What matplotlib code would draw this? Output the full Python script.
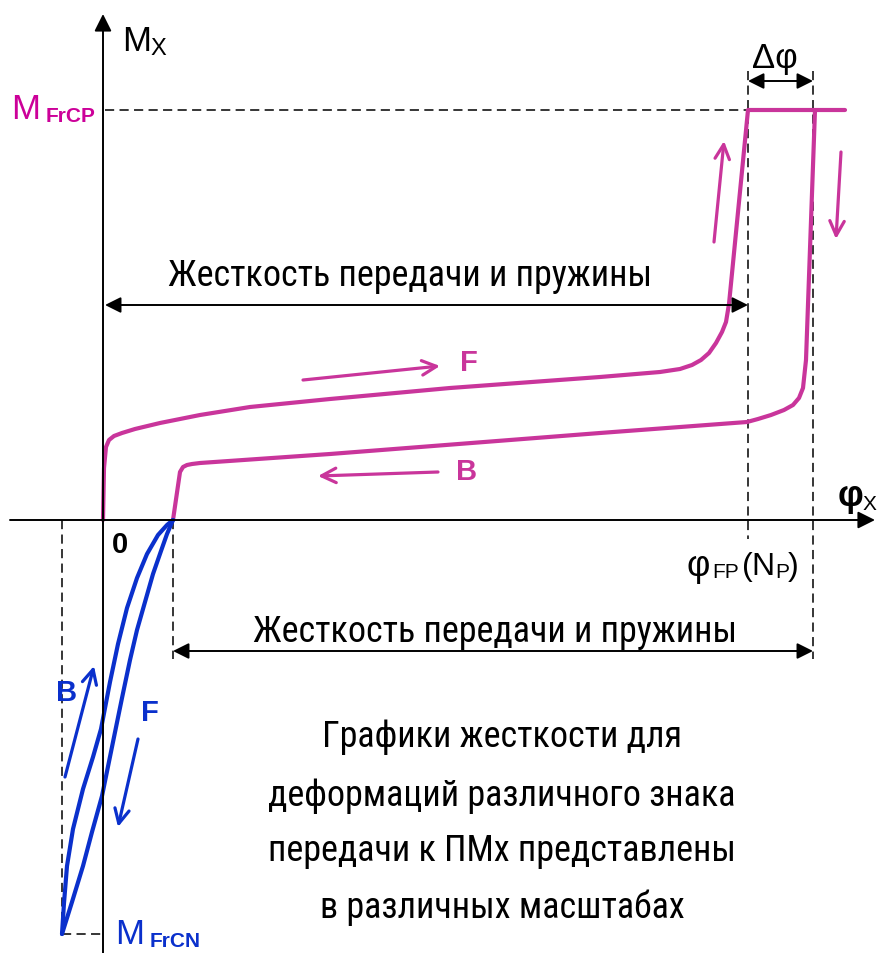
import matplotlib.pyplot as plt

plt.rcParams['font.family'] = ['Liberation Sans', 'DejaVu Sans']
NARROW = ['Roboto Condensed', 'Liberation Sans']

PINK = '#C9359B'
MAGENTA = '#CC0099'
BLUE = '#0A30CC'

# прямой ход (F) при положительной деформации
f_phi = [0, 1, 3, 6, 11, 19, 32, 57, 97, 147, 227, 347, 497, 557, 577, 589, 598,
         606, 613, 619, 623, 626, 645, 742]
f_m = [0, 52, 73, 80, 84, 87, 91, 97, 105, 113, 121, 132, 143, 148, 151, 155, 160,
       167, 177, 188, 198, 216, 410, 410]
# обратный ход (B)
b_phi = [712, 703, 700, 696, 690, 681, 668, 655, 644, 497, 227, 97, 89, 84, 80, 77, 70]
b_m = [410, 160, 132, 122, 115, 110, 105, 101, 98, 87, 66, 57, 56, 55, 53, 48, 0]

# отрицательная ветвь, другой масштаб
nf_phi = [70, 64, 58, 50, 42, 34, 27, 19, 10, -1, -11, -20, -31, -41]
nf_m = [0, -14, -31, -54, -82, -110, -140, -178, -222, -276, -312, -346, -382, -414]
nb_phi = [-41, -39, -36, -30, -20, -10, -2, 7, 15, 24, 34, 44, 55, 64, 70]
nb_m = [-414, -383, -346, -309, -269, -237, -209, -162, -124, -88, -58, -34, -15, -5, 0]

phi_fp, phi_end, phi_neg = 645, 710, 70
m_frcp, m_frcn = 410, -414

caption = ['Графики жесткости для',
           'деформаций различного знака',
           'передачи к ПМх представлены',
           'в различных масштабах']
caption_y = [-216, -275, -330, -387]


def arrow(ax, start, end, color, style='-|>', lw=1.5, ms=22):
    ax.annotate('', xy=end, xytext=start,
                arrowprops=dict(arrowstyle=style, color=color, lw=lw,
                                mutation_scale=ms, shrinkA=0, shrinkB=0))


fig = plt.figure(figsize=(8.77, 9.54), dpi=100)
ax = fig.add_axes([0, 0, 1, 1])
ax.set_xlim(-103, 774)
ax.set_ylim(-433, 521)
ax.axis('off')

# оси
arrow(ax, (0, -433), (0, 506), 'black', lw=1.4, ms=26)
arrow(ax, (-93, 0), (772, 0), 'black', lw=1.4, ms=26)

dash = dict(color='black', lw=1.1, dashes=(6, 3.5))
ax.plot([2, phi_fp], [m_frcp, m_frcp], **dash)
ax.plot([phi_fp, phi_fp], [449, -19], **dash)
ax.plot([phi_end, phi_end], [449, -139], **dash)
ax.plot([phi_neg, phi_neg], [0, -139], **dash)
ax.plot([-41, -41], [0, m_frcn], **dash)
ax.plot([-41, 0], [m_frcn, m_frcn], **dash)

# кривые
for x, y, c in [(f_phi, f_m, PINK), (b_phi, b_m, PINK),
                (nf_phi, nf_m, BLUE), (nb_phi, nb_m, BLUE)]:
    ax.plot(x, y, color=c, lw=3, solid_joinstyle='round', solid_capstyle='round')

# размерные стрелки
arrow(ax, (2, 215), (phi_fp, 215), 'black', style='<|-|>', lw=1.4, ms=24)
arrow(ax, (phi_neg, -131), (phi_end, -131), 'black', style='<|-|>', lw=1.4, ms=24)
arrow(ax, (phi_fp, 439), (phi_end, 439), 'black', style='<|-|>', lw=1.4, ms=24)

# направления хода
arrow(ax, (200, 140), (337, 154), PINK, style='->', lw=2.3, ms=26)
arrow(ax, (335, 48), (215, 44), PINK, style='->', lw=2.3, ms=26)
arrow(ax, (611, 278), (621, 379), PINK, style='->', lw=2.3, ms=26)
arrow(ax, (738, 368), (733, 281), PINK, style='->', lw=2.3, ms=26)
arrow(ax, (-38, -257), (-9, -146), BLUE, style='->', lw=2.3, ms=26)
arrow(ax, (35, -219), (15, -307), BLUE, style='->', lw=2.3, ms=26)

# подписи
ax.text(366, 158, 'F', color=PINK, fontsize=21, fontweight='bold', ha='center', va='center')
ax.text(364, 49, 'B', color=PINK, fontsize=21, fontweight='bold', ha='center', va='center')
ax.text(-36, -172, 'B', color=BLUE, fontsize=21, fontweight='bold', ha='center', va='center')
ax.text(47, -192, 'F', color=BLUE, fontsize=21, fontweight='bold', ha='center', va='center')

ax.text(17, -24, '0', fontsize=21, fontweight='bold', ha='center', va='center')
ax.text(19, 479, 'M', fontsize=25, ha='left', va='center')
ax.text(47, 472, 'X', fontsize=17, ha='left', va='center')

ax.text(-92, 411, 'M', color=MAGENTA, fontsize=25, ha='left', va='center')
ax.text(-57, 404, 'FrCP', color=MAGENTA, fontsize=15, fontweight='bold', ha='left', va='center')
ax.text(12, -414, 'M', color=BLUE, fontsize=25, ha='left', va='center')
ax.text(47, -421, 'FrCN', color=BLUE, fontsize=15, fontweight='bold', ha='left', va='center')

ax.text(672, 462, 'Δφ', fontsize=25, ha='center', va='center')
ax.text(735, 24, 'φ', fontsize=26, fontweight='bold', ha='left', va='center')
ax.text(760, 16, 'X', fontsize=15, ha='left', va='center')

ax.text(583, -46, 'φ', fontsize=26, ha='left', va='center')
ax.text(609, -52, 'FP', fontsize=15, ha='left', va='center')
ax.text(639, -46, '(', fontsize=23, ha='left', va='center')
ax.text(648, -46, 'N', fontsize=23, ha='left', va='center')
ax.text(672, -52, 'P', fontsize=15, ha='left', va='center')
ax.text(685, -46, ')', fontsize=23, ha='left', va='center')

ax.text(307, 245, 'Жесткость передачи и пружины', family=NARROW, fontsize=26,
        ha='center', va='center')
ax.text(392, -111, 'Жесткость передачи и пружины', family=NARROW, fontsize=26,
        ha='center', va='center')

for line, y in zip(caption, caption_y):
    ax.text(399, y, line, family=NARROW, fontsize=26, ha='center', va='center')

fig.savefig('out.png', dpi=100)
